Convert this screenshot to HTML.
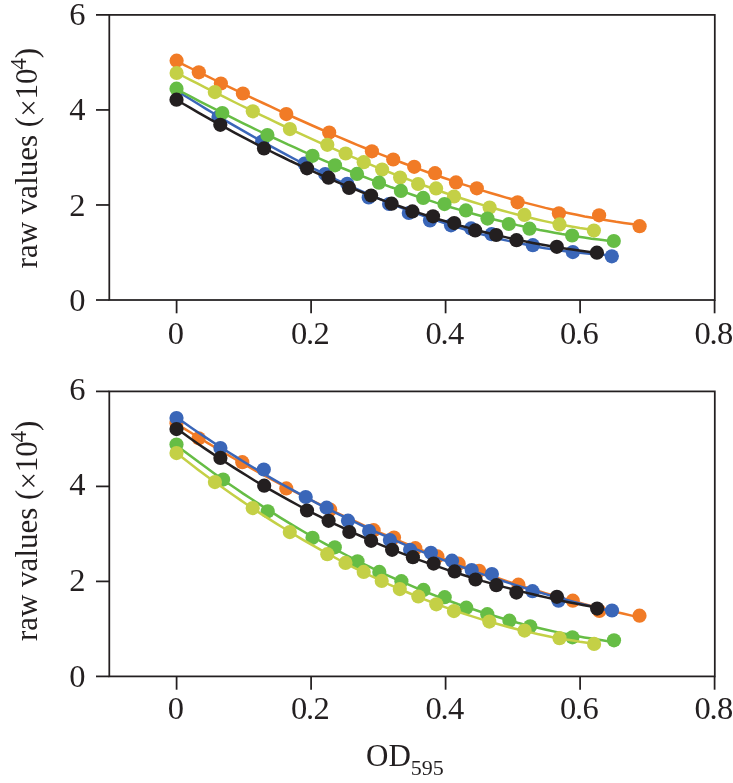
<!DOCTYPE html>
<html><head><meta charset="utf-8"><style>
html,body{margin:0;padding:0;background:#fff;}
body{width:733px;height:783px;overflow:hidden;}
svg{display:block;will-change:transform;}
text{font-family:"Liberation Serif",serif;fill:#231F20;}
</style></head><body>
<svg width="733" height="783" viewBox="0 0 733 783">
<rect x="109.3" y="14.9" width="605.5" height="285.1" fill="none" stroke="#231F20" stroke-width="1.75"/>
<line x1="96" y1="300.00" x2="109.3" y2="300.00" stroke="#231F20" stroke-width="1.75"/>
<line x1="96" y1="204.97" x2="109.3" y2="204.97" stroke="#231F20" stroke-width="1.75"/>
<line x1="96" y1="109.93" x2="109.3" y2="109.93" stroke="#231F20" stroke-width="1.75"/>
<line x1="96" y1="14.90" x2="109.3" y2="14.90" stroke="#231F20" stroke-width="1.75"/>
<line x1="176.60" y1="300.0" x2="176.60" y2="313.30" stroke="#231F20" stroke-width="1.75"/>
<line x1="311.10" y1="300.0" x2="311.10" y2="313.30" stroke="#231F20" stroke-width="1.75"/>
<line x1="445.60" y1="300.0" x2="445.60" y2="313.30" stroke="#231F20" stroke-width="1.75"/>
<line x1="580.10" y1="300.0" x2="580.10" y2="313.30" stroke="#231F20" stroke-width="1.75"/>
<line x1="714.60" y1="300.0" x2="714.60" y2="313.30" stroke="#231F20" stroke-width="1.75"/>
<polyline points="176.5,90.5 183.9,95.2 191.3,99.8 198.6,104.3 206.0,108.9 213.4,113.3 220.8,117.7 228.1,122.1 235.5,126.4 242.9,130.7 250.3,134.9 257.7,139.1 265.0,143.2 272.4,147.2 279.8,151.2 287.2,155.1 294.5,159.0 301.9,162.8 309.3,166.6 316.7,170.2 324.1,173.9 331.4,177.4 338.8,180.9 346.2,184.3 353.6,187.7 360.9,191.0 368.3,194.2 375.7,197.4 383.1,200.4 390.5,203.5 397.8,206.4 405.2,209.3 412.6,212.0 420.0,214.7 427.4,217.4 434.7,219.9 442.1,222.4 449.5,224.8 456.9,227.1 464.2,229.3 471.6,231.5 479.0,233.6 486.4,235.5 493.8,237.4 501.1,239.2 508.5,240.9 515.9,242.6 523.3,244.1 530.6,245.5 538.0,246.9 545.4,248.2 552.8,249.3 560.2,250.4 567.5,251.4 574.9,252.2 582.3,253.0 589.7,253.7 597.0,254.3 604.4,254.8 611.8,255.1" fill="none" stroke="#3A66B8" stroke-width="2.5"/>
<circle cx="218.5" cy="117.0" r="7.1" fill="#3A66B8"/>
<circle cx="262.2" cy="141.5" r="7.1" fill="#3A66B8"/>
<circle cx="304.5" cy="163.7" r="7.1" fill="#3A66B8"/>
<circle cx="325.2" cy="174.0" r="7.1" fill="#3A66B8"/>
<circle cx="347.2" cy="183.8" r="7.1" fill="#3A66B8"/>
<circle cx="368.7" cy="197.5" r="7.1" fill="#3A66B8"/>
<circle cx="389.1" cy="204.0" r="7.1" fill="#3A66B8"/>
<circle cx="408.8" cy="213.0" r="7.1" fill="#3A66B8"/>
<circle cx="430.0" cy="220.4" r="7.1" fill="#3A66B8"/>
<circle cx="451.0" cy="225.3" r="7.1" fill="#3A66B8"/>
<circle cx="471.1" cy="228.4" r="7.1" fill="#3A66B8"/>
<circle cx="491.6" cy="234.2" r="7.1" fill="#3A66B8"/>
<circle cx="532.8" cy="245.2" r="7.1" fill="#3A66B8"/>
<circle cx="572.8" cy="252.1" r="7.1" fill="#3A66B8"/>
<circle cx="611.8" cy="256.3" r="7.1" fill="#3A66B8"/>
<polyline points="176.6,61.2 184.4,65.1 192.3,69.0 200.1,72.8 208.0,76.7 215.8,80.5 223.7,84.3 231.5,88.1 239.4,91.9 247.2,95.6 255.1,99.3 262.9,103.0 270.8,106.7 278.6,110.3 286.5,113.9 294.3,117.5 302.2,121.0 310.0,124.5 317.9,128.0 325.7,131.4 333.5,134.8 341.4,138.2 349.2,141.5 357.1,144.8 364.9,148.0 372.8,151.2 380.6,154.3 388.5,157.4 396.3,160.5 404.2,163.5 412.0,166.4 419.9,169.4 427.7,172.2 435.6,175.0 443.4,177.7 451.3,180.4 459.1,183.1 467.0,185.6 474.8,188.1 482.7,190.6 490.5,193.0 498.3,195.3 506.2,197.6 514.0,199.8 521.9,201.9 529.7,203.9 537.6,205.9 545.4,207.9 553.3,209.7 561.1,211.5 569.0,213.2 576.8,214.8 584.7,216.4 592.5,217.8 600.4,219.2 608.2,220.5 616.1,221.8 623.9,222.9 631.8,224.0 639.6,225.0" fill="none" stroke="#F17B26" stroke-width="2.5"/>
<circle cx="176.6" cy="60.7" r="7.1" fill="#F17B26"/>
<circle cx="198.8" cy="72.3" r="7.1" fill="#F17B26"/>
<circle cx="220.9" cy="83.5" r="7.1" fill="#F17B26"/>
<circle cx="242.9" cy="93.5" r="7.1" fill="#F17B26"/>
<circle cx="286.3" cy="114.1" r="7.1" fill="#F17B26"/>
<circle cx="329.2" cy="132.6" r="7.1" fill="#F17B26"/>
<circle cx="371.9" cy="151.3" r="7.1" fill="#F17B26"/>
<circle cx="393.2" cy="159.5" r="7.1" fill="#F17B26"/>
<circle cx="414.2" cy="166.8" r="7.1" fill="#F17B26"/>
<circle cx="435.0" cy="173.2" r="7.1" fill="#F17B26"/>
<circle cx="456.0" cy="182.4" r="7.1" fill="#F17B26"/>
<circle cx="476.8" cy="188.3" r="7.1" fill="#F17B26"/>
<circle cx="517.6" cy="202.3" r="7.1" fill="#F17B26"/>
<circle cx="558.9" cy="213.3" r="7.1" fill="#F17B26"/>
<circle cx="599.1" cy="215.3" r="7.1" fill="#F17B26"/>
<circle cx="639.6" cy="226.2" r="7.1" fill="#F17B26"/>
<polyline points="176.6,72.9 183.7,76.5 190.7,80.1 197.8,83.7 204.9,87.3 212.0,90.8 219.0,94.4 226.1,97.9 233.2,101.5 240.3,105.0 247.3,108.4 254.4,111.9 261.5,115.3 268.5,118.7 275.6,122.1 282.7,125.5 289.8,128.8 296.8,132.1 303.9,135.4 311.0,138.6 318.1,141.9 325.1,145.0 332.2,148.2 339.3,151.3 346.3,154.4 353.4,157.4 360.5,160.4 367.6,163.4 374.6,166.3 381.7,169.2 388.8,172.0 395.9,174.8 402.9,177.5 410.0,180.2 417.1,182.9 424.2,185.5 431.2,188.0 438.3,190.5 445.4,193.0 452.4,195.4 459.5,197.7 466.6,200.0 473.7,202.2 480.7,204.4 487.8,206.5 494.9,208.5 502.0,210.5 509.0,212.4 516.1,214.3 523.2,216.1 530.2,217.8 537.3,219.5 544.4,221.1 551.5,222.6 558.5,224.1 565.6,225.4 572.7,226.7 579.8,228.0 586.8,229.1 593.9,230.2" fill="none" stroke="#C4D046" stroke-width="2.5"/>
<circle cx="176.6" cy="73.0" r="7.1" fill="#C4D046"/>
<circle cx="214.8" cy="92.1" r="7.1" fill="#C4D046"/>
<circle cx="252.8" cy="111.3" r="7.1" fill="#C4D046"/>
<circle cx="289.9" cy="129.1" r="7.1" fill="#C4D046"/>
<circle cx="327.3" cy="144.8" r="7.1" fill="#C4D046"/>
<circle cx="345.6" cy="153.5" r="7.1" fill="#C4D046"/>
<circle cx="363.7" cy="162.2" r="7.1" fill="#C4D046"/>
<circle cx="382.1" cy="169.6" r="7.1" fill="#C4D046"/>
<circle cx="400.1" cy="177.5" r="7.1" fill="#C4D046"/>
<circle cx="418.1" cy="184.0" r="7.1" fill="#C4D046"/>
<circle cx="436.1" cy="188.4" r="7.1" fill="#C4D046"/>
<circle cx="454.0" cy="196.5" r="7.1" fill="#C4D046"/>
<circle cx="489.6" cy="207.5" r="7.1" fill="#C4D046"/>
<circle cx="524.4" cy="214.9" r="7.1" fill="#C4D046"/>
<circle cx="559.5" cy="224.4" r="7.1" fill="#C4D046"/>
<circle cx="593.9" cy="230.6" r="7.1" fill="#C4D046"/>
<polyline points="176.5,89.0 183.9,93.0 191.3,96.9 198.7,100.8 206.1,104.6 213.6,108.4 221.0,112.2 228.4,115.9 235.8,119.6 243.2,123.3 250.6,126.9 258.0,130.5 265.4,134.0 272.9,137.5 280.3,140.9 287.7,144.4 295.1,147.7 302.5,151.1 309.9,154.3 317.3,157.6 324.7,160.8 332.1,163.9 339.6,167.0 347.0,170.0 354.4,173.0 361.8,176.0 369.2,178.9 376.6,181.7 384.0,184.5 391.4,187.3 398.9,189.9 406.3,192.6 413.7,195.2 421.1,197.7 428.5,200.1 435.9,202.6 443.3,204.9 450.7,207.2 458.2,209.4 465.6,211.6 473.0,213.7 480.4,215.8 487.8,217.8 495.2,219.7 502.6,221.5 510.0,223.3 517.4,225.1 524.9,226.7 532.3,228.3 539.7,229.9 547.1,231.3 554.5,232.7 561.9,234.1 569.3,235.3 576.7,236.5 584.2,237.6 591.6,238.7 599.0,239.6 606.4,240.5 613.8,241.4" fill="none" stroke="#66BD45" stroke-width="2.5"/>
<circle cx="176.5" cy="88.7" r="7.1" fill="#66BD45"/>
<circle cx="222.3" cy="113.1" r="7.1" fill="#66BD45"/>
<circle cx="267.4" cy="135.1" r="7.1" fill="#66BD45"/>
<circle cx="312.5" cy="155.8" r="7.1" fill="#66BD45"/>
<circle cx="335.0" cy="165.3" r="7.1" fill="#66BD45"/>
<circle cx="357.0" cy="173.9" r="7.1" fill="#66BD45"/>
<circle cx="379.0" cy="182.7" r="7.1" fill="#66BD45"/>
<circle cx="400.9" cy="190.9" r="7.1" fill="#66BD45"/>
<circle cx="423.2" cy="197.9" r="7.1" fill="#66BD45"/>
<circle cx="444.5" cy="204.1" r="7.1" fill="#66BD45"/>
<circle cx="465.9" cy="210.4" r="7.1" fill="#66BD45"/>
<circle cx="487.5" cy="218.6" r="7.1" fill="#66BD45"/>
<circle cx="508.8" cy="224.0" r="7.1" fill="#66BD45"/>
<circle cx="529.5" cy="228.7" r="7.1" fill="#66BD45"/>
<circle cx="572.1" cy="235.5" r="7.1" fill="#66BD45"/>
<circle cx="613.8" cy="241.0" r="7.1" fill="#66BD45"/>
<polyline points="176.5,99.7 183.6,104.0 190.8,108.1 197.9,112.3 205.0,116.3 212.1,120.3 219.3,124.3 226.4,128.2 233.5,132.1 240.6,135.9 247.8,139.6 254.9,143.3 262.0,147.0 269.1,150.5 276.3,154.1 283.4,157.5 290.5,161.0 297.6,164.3 304.8,167.6 311.9,170.9 319.0,174.1 326.1,177.2 333.3,180.3 340.4,183.4 347.5,186.3 354.6,189.2 361.8,192.1 368.9,194.9 376.0,197.6 383.1,200.3 390.3,203.0 397.4,205.5 404.5,208.0 411.6,210.5 418.8,212.9 425.9,215.2 433.0,217.5 440.1,219.7 447.3,221.8 454.4,223.9 461.5,226.0 468.6,227.9 475.8,229.8 482.9,231.7 490.0,233.5 497.1,235.2 504.3,236.9 511.4,238.5 518.5,240.0 525.6,241.5 532.8,242.9 539.9,244.2 547.0,245.5 554.1,246.7 561.3,247.9 568.4,249.0 575.5,250.0 582.6,251.0 589.8,251.9 596.9,252.7" fill="none" stroke="#231F20" stroke-width="2.5"/>
<circle cx="176.5" cy="99.7" r="7.1" fill="#231F20"/>
<circle cx="220.3" cy="124.8" r="7.1" fill="#231F20"/>
<circle cx="264.0" cy="148.4" r="7.1" fill="#231F20"/>
<circle cx="307.0" cy="168.3" r="7.1" fill="#231F20"/>
<circle cx="328.5" cy="177.7" r="7.1" fill="#231F20"/>
<circle cx="349.1" cy="187.9" r="7.1" fill="#231F20"/>
<circle cx="371.1" cy="195.5" r="7.1" fill="#231F20"/>
<circle cx="391.6" cy="203.7" r="7.1" fill="#231F20"/>
<circle cx="412.4" cy="211.4" r="7.1" fill="#231F20"/>
<circle cx="433.0" cy="216.3" r="7.1" fill="#231F20"/>
<circle cx="454.2" cy="223.1" r="7.1" fill="#231F20"/>
<circle cx="475.2" cy="230.4" r="7.1" fill="#231F20"/>
<circle cx="496.2" cy="235.0" r="7.1" fill="#231F20"/>
<circle cx="516.5" cy="240.2" r="7.1" fill="#231F20"/>
<circle cx="556.8" cy="246.8" r="7.1" fill="#231F20"/>
<circle cx="596.9" cy="252.7" r="7.1" fill="#231F20"/>
<text x="85.6" y="311.20" text-anchor="end" font-size="32.5">0</text>
<text x="85.6" y="215.57" text-anchor="end" font-size="32.5">2</text>
<text x="85.6" y="120.23" text-anchor="end" font-size="32.5">4</text>
<text x="85.6" y="25.00" text-anchor="end" font-size="32.5">6</text>
<text x="175.95" y="343.9" text-anchor="middle" font-size="32.5">0</text>
<text x="299.15 310.00 321.60" y="343.9" text-anchor="middle" font-size="32.5">0.2</text>
<text x="433.65 444.50 456.10" y="343.9" text-anchor="middle" font-size="32.5">0.4</text>
<text x="568.15 579.00 590.60" y="343.9" text-anchor="middle" font-size="32.5">0.6</text>
<text x="702.65 713.50 725.10" y="343.9" text-anchor="middle" font-size="32.5">0.8</text>
<text transform="translate(36.8 158.15) rotate(-90)" text-anchor="middle" font-size="31">raw values (<tspan dy="1.8">×</tspan><tspan dy="-1.8">10</tspan><tspan font-size="23" dy="-11" dx="-1.4">4</tspan><tspan dy="11">)</tspan></text>
<rect x="109.3" y="391.4" width="605.5" height="285.0" fill="none" stroke="#231F20" stroke-width="1.75"/>
<line x1="96" y1="676.40" x2="109.3" y2="676.40" stroke="#231F20" stroke-width="1.75"/>
<line x1="96" y1="581.40" x2="109.3" y2="581.40" stroke="#231F20" stroke-width="1.75"/>
<line x1="96" y1="486.40" x2="109.3" y2="486.40" stroke="#231F20" stroke-width="1.75"/>
<line x1="96" y1="391.40" x2="109.3" y2="391.40" stroke="#231F20" stroke-width="1.75"/>
<line x1="176.60" y1="676.4" x2="176.60" y2="689.70" stroke="#231F20" stroke-width="1.75"/>
<line x1="311.10" y1="676.4" x2="311.10" y2="689.70" stroke="#231F20" stroke-width="1.75"/>
<line x1="445.60" y1="676.4" x2="445.60" y2="689.70" stroke="#231F20" stroke-width="1.75"/>
<line x1="580.10" y1="676.4" x2="580.10" y2="689.70" stroke="#231F20" stroke-width="1.75"/>
<line x1="714.60" y1="676.4" x2="714.60" y2="689.70" stroke="#231F20" stroke-width="1.75"/>
<polyline points="176.5,445.2 183.9,450.9 191.3,456.5 198.7,462.1 206.2,467.5 213.6,472.9 221.0,478.2 228.4,483.4 235.8,488.5 243.2,493.6 250.7,498.5 258.1,503.4 265.5,508.2 272.9,512.9 280.3,517.6 287.7,522.1 295.1,526.6 302.6,531.0 310.0,535.3 317.4,539.5 324.8,543.6 332.2,547.7 339.6,551.7 347.1,555.5 354.5,559.4 361.9,563.1 369.3,566.7 376.7,570.3 384.1,573.8 391.5,577.2 399.0,580.5 406.4,583.7 413.8,586.9 421.2,590.0 428.6,593.0 436.0,595.9 443.4,598.7 450.9,601.5 458.3,604.2 465.7,606.7 473.1,609.3 480.5,611.7 487.9,614.0 495.4,616.3 502.8,618.5 510.2,620.6 517.6,622.7 525.0,624.6 532.4,626.5 539.8,628.3 547.3,630.0 554.7,631.6 562.1,633.2 569.5,634.7 576.9,636.1 584.3,637.4 591.8,638.6 599.2,639.8 606.6,640.9 614.0,641.9" fill="none" stroke="#66BD45" stroke-width="2.5"/>
<circle cx="176.5" cy="444.6" r="7.1" fill="#66BD45"/>
<circle cx="223.1" cy="479.6" r="7.1" fill="#66BD45"/>
<circle cx="267.7" cy="511.3" r="7.1" fill="#66BD45"/>
<circle cx="312.5" cy="537.8" r="7.1" fill="#66BD45"/>
<circle cx="334.8" cy="547.3" r="7.1" fill="#66BD45"/>
<circle cx="357.5" cy="561.3" r="7.1" fill="#66BD45"/>
<circle cx="379.3" cy="571.9" r="7.1" fill="#66BD45"/>
<circle cx="401.4" cy="581.2" r="7.1" fill="#66BD45"/>
<circle cx="423.5" cy="589.9" r="7.1" fill="#66BD45"/>
<circle cx="444.7" cy="597.2" r="7.1" fill="#66BD45"/>
<circle cx="466.3" cy="607.7" r="7.1" fill="#66BD45"/>
<circle cx="487.3" cy="614.2" r="7.1" fill="#66BD45"/>
<circle cx="509.4" cy="620.7" r="7.1" fill="#66BD45"/>
<circle cx="530.2" cy="626.3" r="7.1" fill="#66BD45"/>
<circle cx="572.4" cy="637.3" r="7.1" fill="#66BD45"/>
<circle cx="614.0" cy="640.3" r="7.1" fill="#66BD45"/>
<polyline points="176.5,453.1 183.6,458.6 190.7,464.0 197.7,469.4 204.8,474.7 211.9,479.9 219.0,485.0 226.0,490.0 233.1,495.0 240.2,499.9 247.3,504.7 254.4,509.4 261.4,514.1 268.5,518.6 275.6,523.1 282.7,527.5 289.7,531.9 296.8,536.1 303.9,540.3 311.0,544.4 318.1,548.4 325.1,552.4 332.2,556.2 339.3,560.0 346.4,563.7 353.4,567.3 360.5,570.9 367.6,574.3 374.7,577.7 381.8,581.0 388.8,584.3 395.9,587.4 403.0,590.5 410.1,593.5 417.2,596.4 424.2,599.3 431.3,602.0 438.4,604.7 445.5,607.3 452.5,609.8 459.6,612.3 466.7,614.6 473.8,616.9 480.9,619.1 487.9,621.3 495.0,623.3 502.1,625.3 509.2,627.2 516.2,629.0 523.3,630.7 530.4,632.4 537.5,634.0 544.6,635.4 551.6,636.9 558.7,638.2 565.8,639.5 572.9,640.6 579.9,641.8 587.0,642.8 594.1,643.7" fill="none" stroke="#C4D046" stroke-width="2.5"/>
<circle cx="176.5" cy="453.1" r="7.1" fill="#C4D046"/>
<circle cx="214.9" cy="482.1" r="7.1" fill="#C4D046"/>
<circle cx="252.7" cy="508.1" r="7.1" fill="#C4D046"/>
<circle cx="289.8" cy="532.1" r="7.1" fill="#C4D046"/>
<circle cx="327.3" cy="554.2" r="7.1" fill="#C4D046"/>
<circle cx="345.5" cy="562.9" r="7.1" fill="#C4D046"/>
<circle cx="363.7" cy="571.9" r="7.1" fill="#C4D046"/>
<circle cx="381.7" cy="580.9" r="7.1" fill="#C4D046"/>
<circle cx="399.8" cy="589.1" r="7.1" fill="#C4D046"/>
<circle cx="418.3" cy="596.5" r="7.1" fill="#C4D046"/>
<circle cx="436.3" cy="604.3" r="7.1" fill="#C4D046"/>
<circle cx="453.9" cy="611.1" r="7.1" fill="#C4D046"/>
<circle cx="489.3" cy="621.6" r="7.1" fill="#C4D046"/>
<circle cx="524.5" cy="630.6" r="7.1" fill="#C4D046"/>
<circle cx="559.5" cy="638.2" r="7.1" fill="#C4D046"/>
<circle cx="594.1" cy="643.9" r="7.1" fill="#C4D046"/>
<polyline points="176.5,423.7 184.3,428.6 192.2,433.5 200.0,438.3 207.9,443.1 215.7,447.8 223.6,452.4 231.4,457.0 239.3,461.5 247.1,466.0 255.0,470.3 262.8,474.7 270.7,479.0 278.5,483.2 286.4,487.3 294.2,491.4 302.1,495.5 309.9,499.5 317.8,503.4 325.6,507.3 333.4,511.1 341.3,514.8 349.1,518.5 357.0,522.2 364.8,525.8 372.7,529.3 380.5,532.8 388.4,536.2 396.2,539.6 404.1,542.9 411.9,546.1 419.8,549.3 427.6,552.5 435.5,555.5 443.3,558.6 451.2,561.6 459.0,564.5 466.9,567.4 474.7,570.2 482.6,572.9 490.4,575.6 498.2,578.3 506.1,580.9 513.9,583.5 521.8,586.0 529.6,588.4 537.5,590.8 545.3,593.2 553.2,595.5 561.0,597.7 568.9,599.9 576.7,602.0 584.6,604.1 592.4,606.2 600.3,608.2 608.1,610.1 616.0,612.0 623.8,613.8 631.7,615.6 639.5,617.4" fill="none" stroke="#F17B26" stroke-width="2.5"/>
<circle cx="176.5" cy="423.2" r="7.1" fill="#F17B26"/>
<circle cx="198.7" cy="438.3" r="7.1" fill="#F17B26"/>
<circle cx="242.3" cy="462.2" r="7.1" fill="#F17B26"/>
<circle cx="286.3" cy="488.4" r="7.1" fill="#F17B26"/>
<circle cx="330.2" cy="509.7" r="7.1" fill="#F17B26"/>
<circle cx="373.6" cy="530.2" r="7.1" fill="#F17B26"/>
<circle cx="394.0" cy="537.5" r="7.1" fill="#F17B26"/>
<circle cx="415.3" cy="548.2" r="7.1" fill="#F17B26"/>
<circle cx="437.4" cy="556.4" r="7.1" fill="#F17B26"/>
<circle cx="458.7" cy="563.7" r="7.1" fill="#F17B26"/>
<circle cx="479.1" cy="570.8" r="7.1" fill="#F17B26"/>
<circle cx="518.4" cy="584.7" r="7.1" fill="#F17B26"/>
<circle cx="572.8" cy="600.7" r="7.1" fill="#F17B26"/>
<circle cx="599.3" cy="610.9" r="7.1" fill="#F17B26"/>
<circle cx="639.5" cy="615.7" r="7.1" fill="#F17B26"/>
<polyline points="176.5,417.4 183.9,422.6 191.3,427.7 198.6,432.7 206.0,437.6 213.4,442.5 220.8,447.3 228.2,452.0 235.6,456.6 242.9,461.2 250.3,465.7 257.7,470.1 265.1,474.5 272.5,478.8 279.8,483.0 287.2,487.1 294.6,491.2 302.0,495.2 309.4,499.2 316.7,503.1 324.1,506.9 331.5,510.6 338.9,514.3 346.3,517.9 353.7,521.5 361.0,525.0 368.4,528.5 375.8,531.8 383.2,535.1 390.6,538.4 397.9,541.6 405.3,544.8 412.7,547.8 420.1,550.9 427.5,553.8 434.8,556.7 442.2,559.6 449.6,562.4 457.0,565.2 464.4,567.8 471.8,570.5 479.1,573.1 486.5,575.6 493.9,578.1 501.3,580.5 508.7,582.9 516.0,585.3 523.4,587.5 530.8,589.8 538.2,592.0 545.6,594.1 552.9,596.2 560.3,598.3 567.7,600.3 575.1,602.2 582.5,604.1 589.9,606.0 597.2,607.8 604.6,609.6 612.0,611.4" fill="none" stroke="#3A66B8" stroke-width="2.5"/>
<circle cx="176.5" cy="418.1" r="7.1" fill="#3A66B8"/>
<circle cx="220.4" cy="448.0" r="7.1" fill="#3A66B8"/>
<circle cx="263.8" cy="469.5" r="7.1" fill="#3A66B8"/>
<circle cx="305.7" cy="497.0" r="7.1" fill="#3A66B8"/>
<circle cx="326.6" cy="507.7" r="7.1" fill="#3A66B8"/>
<circle cx="348.0" cy="520.7" r="7.1" fill="#3A66B8"/>
<circle cx="369.1" cy="531.0" r="7.1" fill="#3A66B8"/>
<circle cx="389.9" cy="540.0" r="7.1" fill="#3A66B8"/>
<circle cx="410.1" cy="549.8" r="7.1" fill="#3A66B8"/>
<circle cx="430.9" cy="552.8" r="7.1" fill="#3A66B8"/>
<circle cx="452.0" cy="560.7" r="7.1" fill="#3A66B8"/>
<circle cx="471.7" cy="570.0" r="7.1" fill="#3A66B8"/>
<circle cx="491.9" cy="574.1" r="7.1" fill="#3A66B8"/>
<circle cx="532.5" cy="591.2" r="7.1" fill="#3A66B8"/>
<circle cx="558.5" cy="600.7" r="7.1" fill="#3A66B8"/>
<circle cx="612.0" cy="610.5" r="7.1" fill="#3A66B8"/>
<polyline points="176.5,428.4 183.6,433.6 190.8,438.7 197.9,443.7 205.0,448.6 212.1,453.4 219.3,458.2 226.4,462.8 233.5,467.4 240.7,471.9 247.8,476.3 254.9,480.7 262.0,484.9 269.2,489.1 276.3,493.2 283.4,497.2 290.6,501.2 297.7,505.0 304.8,508.8 311.9,512.6 319.1,516.2 326.2,519.8 333.3,523.3 340.5,526.7 347.6,530.0 354.7,533.3 361.8,536.5 369.0,539.7 376.1,542.8 383.2,545.8 390.4,548.7 397.5,551.6 404.6,554.4 411.8,557.1 418.9,559.8 426.0,562.4 433.1,565.0 440.3,567.4 447.4,569.9 454.5,572.2 461.7,574.5 468.8,576.8 475.9,578.9 483.0,581.1 490.2,583.1 497.3,585.1 504.4,587.1 511.6,589.0 518.7,590.8 525.8,592.6 532.9,594.3 540.1,596.0 547.2,597.6 554.3,599.2 561.5,600.7 568.6,602.2 575.7,603.6 582.8,605.0 590.0,606.3 597.1,607.6" fill="none" stroke="#231F20" stroke-width="2.5"/>
<circle cx="176.5" cy="429.1" r="7.1" fill="#231F20"/>
<circle cx="220.4" cy="457.9" r="7.1" fill="#231F20"/>
<circle cx="264.2" cy="485.7" r="7.1" fill="#231F20"/>
<circle cx="307.0" cy="510.5" r="7.1" fill="#231F20"/>
<circle cx="328.6" cy="520.8" r="7.1" fill="#231F20"/>
<circle cx="349.3" cy="532.0" r="7.1" fill="#231F20"/>
<circle cx="371.1" cy="540.8" r="7.1" fill="#231F20"/>
<circle cx="392.1" cy="549.8" r="7.1" fill="#231F20"/>
<circle cx="412.9" cy="557.2" r="7.1" fill="#231F20"/>
<circle cx="433.6" cy="563.6" r="7.1" fill="#231F20"/>
<circle cx="454.6" cy="571.4" r="7.1" fill="#231F20"/>
<circle cx="475.5" cy="579.5" r="7.1" fill="#231F20"/>
<circle cx="496.3" cy="585.2" r="7.1" fill="#231F20"/>
<circle cx="516.4" cy="592.6" r="7.1" fill="#231F20"/>
<circle cx="556.9" cy="596.8" r="7.1" fill="#231F20"/>
<circle cx="597.1" cy="608.6" r="7.1" fill="#231F20"/>
<text x="85.6" y="686.50" text-anchor="end" font-size="32.5">0</text>
<text x="85.6" y="591.00" text-anchor="end" font-size="32.5">2</text>
<text x="85.6" y="495.20" text-anchor="end" font-size="32.5">4</text>
<text x="85.6" y="400.20" text-anchor="end" font-size="32.5">6</text>
<text x="175.95" y="719.0" text-anchor="middle" font-size="32.5">0</text>
<text x="299.15 310.00 321.60" y="719.0" text-anchor="middle" font-size="32.5">0.2</text>
<text x="433.65 444.50 456.10" y="719.0" text-anchor="middle" font-size="32.5">0.4</text>
<text x="568.15 579.00 590.60" y="719.0" text-anchor="middle" font-size="32.5">0.6</text>
<text x="702.65 713.50 725.10" y="719.0" text-anchor="middle" font-size="32.5">0.8</text>
<text transform="translate(36.8 530.90) rotate(-90)" text-anchor="middle" font-size="31">raw values (<tspan dy="1.8">×</tspan><tspan dy="-1.8">10</tspan><tspan font-size="23" dy="-11" dx="-1.4">4</tspan><tspan dy="11">)</tspan></text>
<text x="366" y="765.5" font-size="31">OD<tspan font-size="22" dy="9.3">595</tspan></text>
</svg>
</body></html>
